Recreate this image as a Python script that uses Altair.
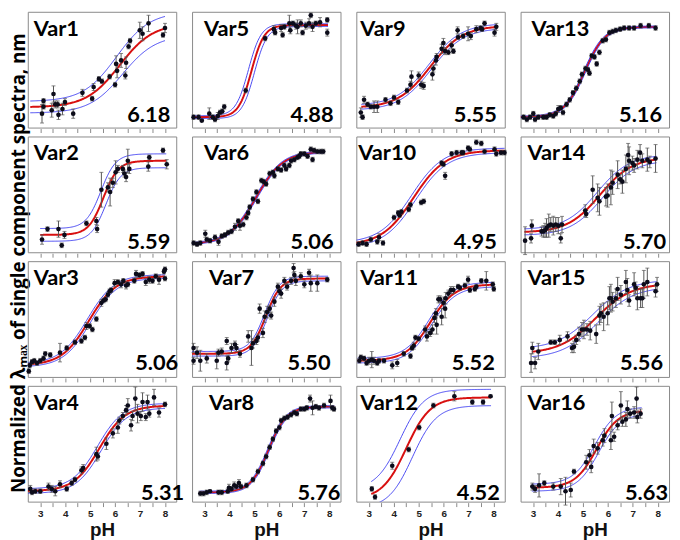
import numpy as np
import pandas as pd
import altair as alt

NAMES = [f"Var{i}" for i in range(1, 17)]
PKA_LABELS = ["6.18", "5.59", "5.06", "5.31", "4.88", "5.06", "5.50", "5.76",
              "5.55", "4.95", "5.52", "4.52", "5.16", "5.70", "5.56", "5.63"]
Y_TITLE = "Normalized λₘₐₓ of single component spectra, nm"
X_TICKS = [3, 3.5, 4, 4.5, 5, 5.5, 6, 6.5, 7, 7.5, 8]

# (pH, normalized value, error)
VAR1 = [(3.07,0.12,0.08),(3.13,0.23,0.02),(3.13,0.18,0.02),(3.46,0.15,0.06),(3.53,0.29,0.07),(3.60,0.20,0.03),
        (3.70,0.20,0.03),(3.73,0.11,0.04),(3.89,0.16,0.05),(3.99,0.22,0.03),(4.32,0.12,0.04),(4.69,0.30,0.03),
        (5.08,0.25,0.02),(5.14,0.35,0.03),(5.35,0.42,0.02),(5.47,0.40,0.02),(5.78,0.44,0.02),(6.00,0.37,0.02),
        (6.04,0.55,0.07),(6.08,0.49,0.06),(6.24,0.58,0.06),(6.41,0.45,0.03),(6.44,0.56,0.05),(6.54,0.70,0.02),
        (6.60,0.75,0.02),(6.99,0.84,0.07),(7.10,0.81,0.06),(7.34,0.90,0.07),(7.92,0.80,0.02),(8.00,0.86,0.04)]
VAR2 = [(3.07,0.11,0.04),(3.29,0.20,0.02),(3.73,0.20,0.07),(3.86,0.06,0.02),(3.97,0.15,0.03),(4.85,0.25,0.02),
        (5.25,0.27,0.03),(5.28,0.20,0.03),(5.45,0.54,0.15),(5.71,0.56,0.04),(5.80,0.52,0.12),(5.91,0.60,0.04),
        (6.02,0.69,0.10),(6.11,0.72,0.03),(6.31,0.72,0.03),(6.37,0.68,0.03),(6.44,0.65,0.04),(6.51,0.79,0.10),
        (6.57,0.72,0.04),(7.33,0.74,0.04),(7.37,0.82,0.02),(7.92,0.88,0.02),(8.07,0.76,0.04)]
VAR3 = [(2.54,0.05,0.02),(2.58,0.10,0.02),(2.67,0.13,0.02),(2.76,0.14,0.02),(2.87,0.12,0.02),(3.00,0.14,0.02),
        (3.13,0.16,0.02),(3.20,0.20,0.02),(3.40,0.19,0.02),(3.79,0.21,0.08),(4.06,0.25,0.02),(4.39,0.30,0.02),
        (4.65,0.31,0.02),(4.79,0.34,0.02),(4.85,0.44,0.03),(4.98,0.44,0.02),(5.09,0.41,0.02),(5.25,0.50,0.02),
        (5.45,0.64,0.03),(5.54,0.66,0.02),(5.62,0.67,0.02),(5.71,0.71,0.02),(5.78,0.74,0.02),(5.84,0.75,0.02),
        (5.98,0.81,0.03),(6.11,0.82,0.02),(6.24,0.80,0.03),(6.33,0.83,0.02),(6.44,0.79,0.03),(6.51,0.80,0.02),
        (6.77,0.83,0.02),(6.84,0.89,0.03),(6.97,0.88,0.02),(7.10,0.89,0.02),(7.23,0.82,0.03),(7.37,0.84,0.03),
        (7.50,0.83,0.02),(7.63,0.87,0.02),(7.76,0.84,0.04),(7.96,0.91,0.02),(8.00,0.93,0.02),(8.00,0.85,0.02)]
VAR4 = [(2.60,0.11,0.03),(2.67,0.08,0.02),(2.80,0.09,0.02),(3.00,0.09,0.02),(3.33,0.13,0.03),(3.46,0.11,0.03),
        (3.60,0.09,0.04),(3.79,0.15,0.03),(4.06,0.11,0.02),(4.26,0.16,0.02),(4.39,0.19,0.02),(4.65,0.27,0.03),
        (4.72,0.29,0.03),(5.25,0.41,0.06),(5.31,0.39,0.03),(5.65,0.50,0.05),(5.91,0.59,0.04),(6.11,0.64,0.05),
        (6.17,0.70,0.03),(6.31,0.74,0.03),(6.44,0.79,0.04),(6.51,0.83,0.06),(6.64,0.66,0.05),(6.70,0.74,0.04),
        (6.81,0.89,0.10),(6.90,0.76,0.08),(7.03,0.74,0.04),(7.10,0.86,0.08),(7.23,0.73,0.03),(7.30,0.86,0.06),
        (7.37,0.76,0.03),(7.56,0.90,0.07),(7.76,0.77,0.04),(8.00,0.84,0.02)]
VAR5 = [(2.56,0.09,0.02),(2.76,0.09,0.02),(2.89,0.06,0.01),(3.19,0.12,0.05),(3.33,0.09,0.02),(3.42,0.07,0.02),
        (3.53,0.10,0.03),(3.62,0.13,0.02),(3.71,0.14,0.02),(3.79,0.18,0.02),(4.65,0.32,0.02),(5.43,0.77,0.02),
        (5.78,0.85,0.03),(5.83,0.82,0.02),(6.07,0.86,0.03),(6.13,0.80,0.02),(6.20,0.87,0.02),(6.40,0.90,0.07),
        (6.44,0.84,0.03),(6.54,0.90,0.02),(6.66,0.88,0.03),(6.73,0.87,0.06),(6.86,0.90,0.03),(6.93,0.82,0.02),
        (7.06,0.88,0.03),(7.19,0.90,0.04),(7.26,0.97,0.02),(7.33,0.87,0.04),(7.46,0.90,0.02),(7.63,0.91,0.04),
        (7.92,0.93,0.02),(7.92,0.82,0.03)]
VAR6 = [(2.56,0.08,0.02),(2.70,0.07,0.02),(2.83,0.08,0.02),(3.03,0.16,0.03),(3.09,0.11,0.02),(3.22,0.10,0.02),
        (3.42,0.13,0.02),(3.56,0.09,0.03),(3.69,0.14,0.02),(3.82,0.15,0.02),(3.95,0.17,0.02),(4.08,0.18,0.02),
        (4.22,0.22,0.03),(4.35,0.27,0.02),(4.42,0.23,0.04),(4.55,0.24,0.02),(4.68,0.30,0.02),(4.75,0.34,0.02),
        (4.81,0.39,0.02),(4.94,0.46,0.02),(5.08,0.52,0.02),(5.14,0.44,0.02),(5.28,0.62,0.02),(5.37,0.61,0.02),
        (5.47,0.59,0.02),(5.61,0.68,0.02),(5.74,0.69,0.02),(5.80,0.66,0.02),(5.94,0.72,0.02),(6.07,0.71,0.02),
        (6.20,0.75,0.02),(6.27,0.72,0.02),(6.40,0.75,0.02),(6.47,0.79,0.02),(6.60,0.80,0.02),(6.73,0.82,0.02),
        (6.80,0.83,0.02),(6.86,0.85,0.02),(7.00,0.85,0.02),(7.13,0.83,0.02),(7.26,0.89,0.02),(7.33,0.80,0.02),
        (7.39,0.88,0.02),(7.52,0.87,0.02),(7.66,0.87,0.02),(7.76,0.87,0.02)]
VAR7 = [(2.56,0.25,0.04),(2.56,0.14,0.03),(2.70,0.21,0.05),(2.83,0.14,0.09),(3.09,0.16,0.04),(3.49,0.14,0.07),
        (3.56,0.21,0.03),(3.69,0.22,0.03),(3.89,0.12,0.06),(3.89,0.31,0.03),(3.95,0.16,0.03),(4.08,0.25,0.04),
        (4.22,0.28,0.03),(4.28,0.25,0.03),(4.42,0.20,0.03),(4.75,0.35,0.05),(4.88,0.25,0.15),(4.94,0.29,0.04),
        (5.08,0.31,0.03),(5.14,0.34,0.03),(5.21,0.59,0.04),(5.34,0.38,0.04),(5.41,0.52,0.05),(5.51,0.56,0.05),
        (5.61,0.59,0.03),(5.67,0.53,0.03),(5.80,0.65,0.04),(5.94,0.78,0.03),(6.00,0.74,0.03),(6.07,0.72,0.04),
        (6.20,0.83,0.03),(6.31,0.78,0.03),(6.47,0.83,0.03),(6.57,0.94,0.04),(6.60,0.88,0.03),(6.66,0.83,0.04),
        (6.86,0.87,0.03),(7.00,0.80,0.03),(7.19,0.90,0.03),(7.26,0.81,0.07),(7.52,0.81,0.07),(7.92,0.84,0.02)]
VAR8 = [(2.83,0.07,0.02),(2.96,0.07,0.02),(3.09,0.08,0.02),(3.22,0.09,0.01),(3.56,0.08,0.02),(3.69,0.08,0.02),
        (3.93,0.09,0.02),(3.98,0.12,0.03),(4.08,0.11,0.02),(4.19,0.14,0.03),(4.28,0.13,0.02),(4.38,0.16,0.03),
        (4.46,0.13,0.02),(4.68,0.14,0.02),(4.94,0.19,0.02),(5.14,0.26,0.02),(5.34,0.33,0.02),(5.47,0.39,0.02),
        (5.61,0.47,0.02),(5.74,0.54,0.02),(5.87,0.61,0.02),(6.00,0.64,0.02),(6.07,0.70,0.02),(6.20,0.72,0.02),
        (6.33,0.73,0.02),(6.47,0.75,0.02),(6.60,0.77,0.02),(6.70,0.76,0.02),(6.86,0.80,0.02),(7.00,0.80,0.02),
        (7.10,0.81,0.02),(7.23,0.89,0.03),(7.33,0.81,0.06),(7.46,0.82,0.02),(7.59,0.81,0.02),(7.79,0.83,0.02),
        (8.05,0.87,0.05),(8.12,0.81,0.02),(8.19,0.80,0.02)]
VAR9 = [(2.68,0.13,0.04),(2.75,0.09,0.02),(2.81,0.24,0.03),(2.95,0.20,0.02),(3.08,0.18,0.02),(3.21,0.18,0.05),
        (3.34,0.18,0.05),(3.67,0.24,0.02),(3.87,0.21,0.02),(4.01,0.26,0.02),(4.18,0.22,0.02),(4.53,0.32,0.02),
        (4.67,0.37,0.03),(4.71,0.44,0.05),(5.00,0.45,0.03),(5.10,0.37,0.03),(5.20,0.36,0.03),(5.55,0.46,0.05),
        (5.59,0.51,0.03),(5.69,0.58,0.04),(5.72,0.61,0.03),(5.92,0.68,0.04),(5.99,0.73,0.04),(6.06,0.66,0.03),
        (6.19,0.65,0.02),(6.32,0.71,0.03),(6.39,0.66,0.02),(6.56,0.84,0.03),(6.58,0.78,0.02),(6.78,0.79,0.02),
        (6.98,0.81,0.06),(7.09,0.79,0.03),(7.31,0.85,0.03),(7.48,0.86,0.02),(7.54,0.85,0.02),(7.64,0.90,0.02),
        (8.04,0.82,0.03),(8.11,0.87,0.03)]
VAR10 = [(2.59,0.07,0.02),(2.75,0.08,0.02),(2.91,0.07,0.02),(3.08,0.11,0.02),(3.34,0.09,0.02),(3.41,0.13,0.03),
         (3.57,0.08,0.02),(4.01,0.30,0.02),(4.18,0.34,0.02),(4.23,0.32,0.02),(4.31,0.35,0.02),(4.60,0.37,0.02),
         (4.67,0.41,0.02),(5.10,0.43,0.02),(5.20,0.44,0.02),(5.92,0.77,0.02),(5.99,0.76,0.02),(6.06,0.66,0.03),
         (6.32,0.85,0.02),(6.52,0.86,0.02),(6.72,0.86,0.02),(6.78,0.86,0.02),(6.98,0.90,0.02),(7.05,0.89,0.02),
         (7.31,0.95,0.02),(7.51,0.94,0.02),(7.64,0.87,0.02),(8.04,0.89,0.02),(8.11,0.85,0.02),(8.30,0.86,0.02),
         (8.44,0.86,0.02)]
VAR11 = [(2.62,0.14,0.02),(2.68,0.17,0.02),(2.81,0.16,0.02),(2.91,0.12,0.02),(3.01,0.14,0.03),(3.12,0.15,0.07),
         (3.21,0.14,0.03),(3.34,0.12,0.02),(3.41,0.14,0.02),(3.61,0.14,0.02),(3.94,0.10,0.03),(4.14,0.12,0.03),
         (4.40,0.20,0.02),(4.67,0.18,0.02),(4.73,0.25,0.02),(4.80,0.27,0.03),(4.87,0.34,0.02),(5.00,0.33,0.02),
         (5.26,0.41,0.03),(5.33,0.35,0.04),(5.46,0.38,0.03),(5.55,0.41,0.04),(5.63,0.51,0.04),(5.69,0.55,0.04),
         (5.72,0.45,0.08),(5.79,0.67,0.03),(5.86,0.67,0.03),(5.92,0.52,0.07),(5.99,0.64,0.05),(6.06,0.59,0.08),
         (6.08,0.68,0.05),(6.19,0.72,0.03),(6.29,0.75,0.03),(6.39,0.75,0.03),(6.58,0.78,0.02),(6.65,0.77,0.02),
         (6.85,0.79,0.02),(6.98,0.84,0.03),(7.05,0.75,0.02),(7.25,0.76,0.02),(7.31,0.78,0.02),(7.51,0.83,0.02),
         (7.71,0.83,0.08),(7.97,0.80,0.02),(8.01,0.76,0.02)]
VAR12 = [(3.12,0.11,0.02),(3.25,0.04,0.02),(3.94,0.31,0.03),(4.60,0.45,0.02),(5.02,0.64,0.02),(5.59,0.83,0.02),
         (6.43,0.91,0.04),(7.15,0.86,0.02),(7.58,0.86,0.02),(7.88,0.91,0.01)]
VAR13 = [(2.62,0.09,0.02),(2.75,0.07,0.02),(2.88,0.09,0.02),(3.01,0.12,0.02),(3.08,0.07,0.02),(3.21,0.09,0.02),
         (3.41,0.09,0.02),(3.54,0.09,0.02),(3.67,0.11,0.02),(3.81,0.10,0.02),(3.91,0.12,0.02),(4.01,0.16,0.03),
         (4.11,0.17,0.02),(4.20,0.13,0.02),(4.34,0.20,0.02),(4.47,0.24,0.02),(4.60,0.30,0.02),(4.73,0.34,0.02),
         (4.87,0.40,0.02),(4.96,0.46,0.02),(5.10,0.51,0.02),(5.20,0.50,0.02),(5.26,0.47,0.02),(5.35,0.62,0.02),
         (5.46,0.61,0.02),(5.55,0.55,0.02),(5.66,0.65,0.02),(5.79,0.75,0.02),(5.92,0.76,0.02),(6.06,0.82,0.02),
         (6.19,0.83,0.02),(6.32,0.84,0.02),(6.49,0.85,0.02),(6.65,0.86,0.02),(6.85,0.86,0.02),(7.05,0.86,0.02),
         (7.31,0.88,0.02),(7.64,0.88,0.02),(7.91,0.86,0.02)]
VAR14 = [(2.68,0.10,0.12),(2.92,0.12,0.04),(2.95,0.23,0.05),(3.34,0.18,0.04),(3.41,0.18,0.05),(3.48,0.19,0.06),
         (3.54,0.21,0.08),(3.63,0.23,0.10),(3.71,0.24,0.06),(3.81,0.23,0.08),(3.91,0.24,0.06),(4.01,0.23,0.07),
         (4.11,0.12,0.04),(4.16,0.24,0.07),(5.09,0.36,0.05),(5.13,0.33,0.03),(5.39,0.54,0.12),(5.59,0.47,0.12),
         (5.66,0.44,0.12),(5.92,0.48,0.08),(5.99,0.49,0.10),(6.12,0.56,0.15),(6.19,0.60,0.10),(6.39,0.67,0.12),
         (6.49,0.63,0.04),(6.58,0.61,0.10),(6.72,0.72,0.12),(6.81,0.84,0.10),(6.85,0.79,0.12),(6.98,0.77,0.06),
         (7.05,0.75,0.06),(7.18,0.80,0.08),(7.29,0.86,0.07),(7.38,0.79,0.06),(7.58,0.80,0.10),(7.68,0.78,0.05),
         (7.91,0.81,0.12)]
VAR15 = [(2.92,0.12,0.08),(2.97,0.25,0.05),(3.08,0.12,0.05),(3.21,0.22,0.07),(3.71,0.30,0.02),(3.87,0.30,0.02),
         (4.07,0.32,0.04),(4.38,0.35,0.04),(4.56,0.25,0.04),(4.64,0.26,0.05),(4.73,0.32,0.04),(4.84,0.37,0.06),
         (4.96,0.41,0.06),(5.04,0.41,0.08),(5.16,0.41,0.05),(5.29,0.40,0.08),(5.53,0.37,0.08),(5.66,0.53,0.08),
         (5.72,0.55,0.08),(5.83,0.52,0.12),(5.99,0.55,0.10),(6.06,0.68,0.10),(6.12,0.68,0.12),(6.19,0.65,0.08),
         (6.32,0.68,0.08),(6.39,0.76,0.10),(6.52,0.71,0.08),(6.72,0.82,0.10),(6.78,0.75,0.10),(6.85,0.66,0.05),
         (7.05,0.80,0.10),(7.11,0.77,0.05),(7.18,0.68,0.10),(7.31,0.68,0.08),(7.38,0.68,0.08),(7.44,0.80,0.12),
         (7.58,0.82,0.12),(7.91,0.74,0.05),(7.97,0.80,0.06)]
VAR16 = [(2.97,0.13,0.03),(3.08,0.11,0.03),(3.24,0.14,0.10),(3.45,0.16,0.02),(3.81,0.13,0.03),(4.11,0.13,0.07),
         (4.30,0.09,0.12),(4.51,0.10,0.06),(4.64,0.26,0.02),(5.13,0.34,0.06),(5.26,0.40,0.05),(5.33,0.30,0.05),
         (5.43,0.48,0.06),(5.59,0.46,0.05),(5.79,0.53,0.05),(5.86,0.57,0.06),(6.12,0.53,0.08),(6.16,0.74,0.12),
         (6.25,0.56,0.04),(6.39,0.66,0.04),(6.52,0.83,0.12),(6.58,0.69,0.04),(6.72,0.71,0.06),(6.78,0.80,0.07),
         (6.89,0.76,0.04),(7.05,0.77,0.05),(7.15,0.89,0.10),(7.18,0.73,0.05),(7.31,0.76,0.04)]
POINTS = [VAR1, VAR2, VAR3, VAR4, VAR5, VAR6, VAR7, VAR8,
          VAR9, VAR10, VAR11, VAR12, VAR13, VAR14, VAR15, VAR16]

# fit: bottom, top, midpoint, slope, band(low end), band(high end), band shift, pH from, pH to
FITS = [(0.175, 0.90, 6.18, 0.65, 0.05, 0.10, 0.12, 2.6, 8.0),
        (0.15, 0.79, 5.53, 1.45, 0.055, 0.06, 0.10, 3.0, 8.05),
        (0.10, 0.87, 4.95, 0.80, 0.015, 0.015, 0.06, 2.5, 8.0),
        (0.09, 0.83, 5.37, 0.85, 0.02, 0.02, 0.07, 2.5, 8.0),
        (0.09, 0.885, 4.88, 1.7, 0.012, 0.012, 0.12, 2.5, 7.95),
        (0.07, 0.87, 5.06, 0.80, 0.008, 0.008, 0.03, 2.5, 7.8),
        (0.20, 0.85, 5.46, 1.46, 0.02, 0.02, 0.05, 2.5, 7.95),
        (0.08, 0.82, 5.57, 1.2, 0.01, 0.01, 0.03, 2.8, 8.2),
        (0.17, 0.88, 5.46, 0.67, 0.02, 0.02, 0.05, 2.7, 8.1),
        (0.06, 0.88, 4.79, 0.68, 0.02, 0.02, 0.08, 2.5, 8.45),
        (0.14, 0.80, 5.46, 0.90, 0.02, 0.02, 0.05, 2.55, 8.0),
        (0.02, 0.90, 4.50, 0.90, 0.08, 0.07, 0.25, 3.1, 7.9),
        (0.09, 0.87, 5.06, 1.07, 0.008, 0.008, 0.03, 2.5, 7.95),
        (0.17, 0.82, 5.68, 0.67, 0.025, 0.025, 0.10, 2.65, 7.95),
        (0.20, 0.81, 5.50, 0.60, 0.04, 0.03, 0.10, 2.95, 7.97),
        (0.12, 0.79, 5.55, 1.0, 0.03, 0.03, 0.08, 2.95, 7.35)]

# label placement inside panels
NAME_DX = [6, 6, 6, 6, 12, 12, 17, 17, 4, 2, 4, 4, 11, 7, 7, 7]
PKA_DX = [6, 6, -2, -8, 7, 7, 10, 0, 8, 8, 10, 5, 7, 3, 6, 1]
PKA_DY = [6, 3, 7, 2]

W, H = 150, 117

pts_rows = []
for name, pts in zip(NAMES, POINTS):
    for x, y, e in pts:
        pts_rows.append({"panel": name, "x": x, "y": y, "lo": y - e, "hi": y + e})
pts_df = pd.DataFrame(pts_rows)


def hh(x, b, t, p, n):
    return b + (t - b) / (1.0 + 10.0 ** (n * (p - x)))


cur_rows = []
for name, (b, t, p, n, dl, dh, dx, x0, x1) in zip(NAMES, FITS):
    xs = np.linspace(x0, x1, 160)
    for kind, ys in (("fit", hh(xs, b, t, p, n)),
                     ("upper", hh(xs, b + dl, t + dh, p - dx, n)),
                     ("lower", hh(xs, b - dl, t - dh, p + dx, n))):
        for xv, yv in zip(xs, ys):
            cur_rows.append({"panel": name, "kind": kind, "x": float(xv), "y": float(yv)})
cur_df = pd.DataFrame(cur_rows)

lab_df = pd.DataFrame({"panel": NAMES, "name": NAMES, "pka": PKA_LABELS})

XSCALE = alt.Scale(domain=[2.5, 8.45], nice=False, zero=False)
YSCALE = alt.Scale(domain=[0, 1], nice=False, zero=False)


def panel(i):
    name = NAMES[i]
    r = i % 4
    bottom = r == 3
    if bottom:
        xaxis = alt.Axis(values=X_TICKS, tickSize=4, offset=1, domain=False, grid=False,
                         tickColor="#8a8a8a",
                         labelExpr="datum.value % 1 === 0 ? format(datum.value, 'd') : ''",
                         labelFontSize=10, labelFontWeight="bold", labelColor="#222",
                         labelPadding=2, title="pH", titleFontSize=19, titleFontWeight="bold",
                         titlePadding=2, titleColor="#111")
    else:
        xaxis = alt.Axis(values=X_TICKS, tickSize=4, offset=1, domain=False, grid=False,
                         tickColor="#8a8a8a", labels=False, title=None)
    X = alt.X("x:Q", scale=XSCALE, axis=xaxis)
    Y = alt.Y("y:Q", scale=YSCALE, axis=None)

    pbase = alt.Chart(pts_df).transform_filter(alt.datum.panel == name)
    err = pbase.mark_errorbar(color="#555555", thickness=1, ticks={"size": 4, "color": "#555555"}).encode(
        x=X, y=alt.Y("lo:Q", scale=YSCALE, axis=None), y2="hi:Q")
    dots = pbase.mark_circle(size=22, color="#0c0c1a", opacity=1).encode(x=X, y=Y)

    cbase = alt.Chart(cur_df)
    blue = cbase.transform_filter((alt.datum.panel == name) & (alt.datum.kind != "fit")).mark_line(
        color="#3535f0", strokeWidth=0.9, clip=True).encode(x=X, y=Y, detail="kind:N")
    red = cbase.transform_filter((alt.datum.panel == name) & (alt.datum.kind == "fit")).mark_line(
        color="#d81010", strokeWidth=2, clip=True).encode(x=X, y=Y)

    lbase = alt.Chart(lab_df).transform_filter(alt.datum.panel == name)
    t1 = lbase.mark_text(align="left", baseline="alphabetic", font="Lato", fontWeight="bold",
                         fontSize=22, color="#000").encode(
        x=alt.value(NAME_DX[i]), y=alt.value(24), text="name:N")
    t2 = lbase.mark_text(align="right", baseline="alphabetic", font="Lato", fontWeight="bold",
                         fontSize=22, color="#000").encode(
        x=alt.value(W - PKA_DX[i]), y=alt.value(H - PKA_DY[r]), text="pka:N")

    return alt.layer(red, blue, err, dots, t1, t2).properties(width=W, height=H)


cells = [panel(c * 4 + r) for r in range(4) for c in range(4)]
grid = alt.concat(*cells, columns=4, spacing={"row": 9, "column": 16}, bounds="flush")

title_chart = alt.Chart(pd.DataFrame({"t": [Y_TITLE]})).mark_text(
    angle=270, align="center", baseline="middle", font="Open Sans", fontWeight="bold", fontSize=19,
    color="#000").encode(x=alt.value(8), y=alt.value(4 * H / 2 + 20), text="t:N").properties(
    width=17, height=4 * H + 27, view=alt.ViewBackground(stroke="transparent"))

chart = alt.hconcat(title_chart, grid, spacing=0, bounds="flush").properties(
    padding={"left": 1, "top": 0, "right": 2, "bottom": 2}
).configure_view(stroke="#8a8a8a", strokeWidth=1)

chart.save("out.html", embed_options={"renderer": "svg", "actions": False})
